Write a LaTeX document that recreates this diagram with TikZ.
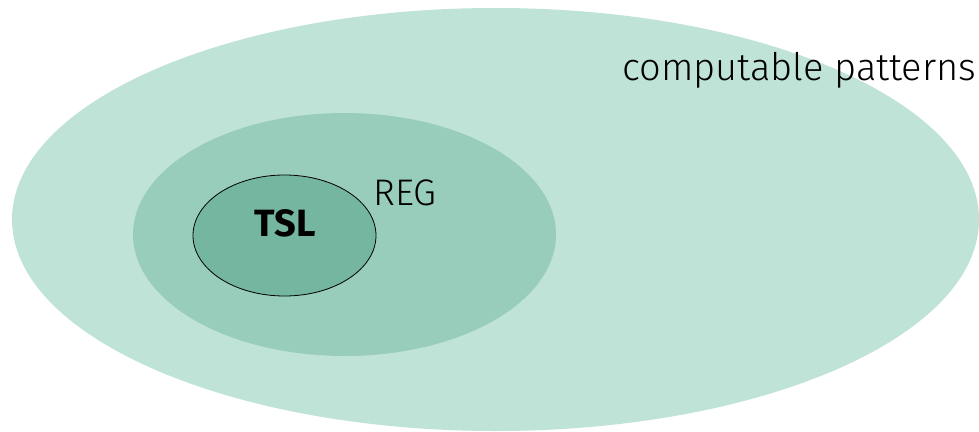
\documentclass[tikz,border=0pt]{standalone}
\usepackage{fontspec}
\setmainfont{Fira Sans Light}[BoldFont={Fira Sans Bold}]
\definecolor{outerc}{HTML}{BFE3D7}
\definecolor{midc}{HTML}{98CDBB}
\definecolor{innerc}{HTML}{74B69F}
\begin{document}
\begin{tikzpicture}[x=1pt,y=-1pt,
  lbl/.style={inner sep=0pt, font=\fontsize{37}{40}\selectfont, text=black}]
\useasboundingbox (0,0) rectangle (979,431);
\fill[outerc] (495.5,219.5) ellipse [x radius=483.5, y radius=211.5];
\fill[midc] (344.5,234.5) ellipse [x radius=211.5, y radius=121.5];
\filldraw[fill=innerc, draw=black, line width=0.8pt] (284.5,235.5) ellipse [x radius=91.5, y radius=60.5];
\node[lbl, anchor=base west, font=\fontsize{38}{41}\selectfont] (comp) at (622,80) {computable patterns};
\node[lbl, anchor=base west] (reg) at (373,205) {REG};
\node[lbl, anchor=base, font=\fontsize{38}{41}\selectfont\bfseries] (tsl) at (285,236) {TSL};
\end{tikzpicture}
\end{document}
